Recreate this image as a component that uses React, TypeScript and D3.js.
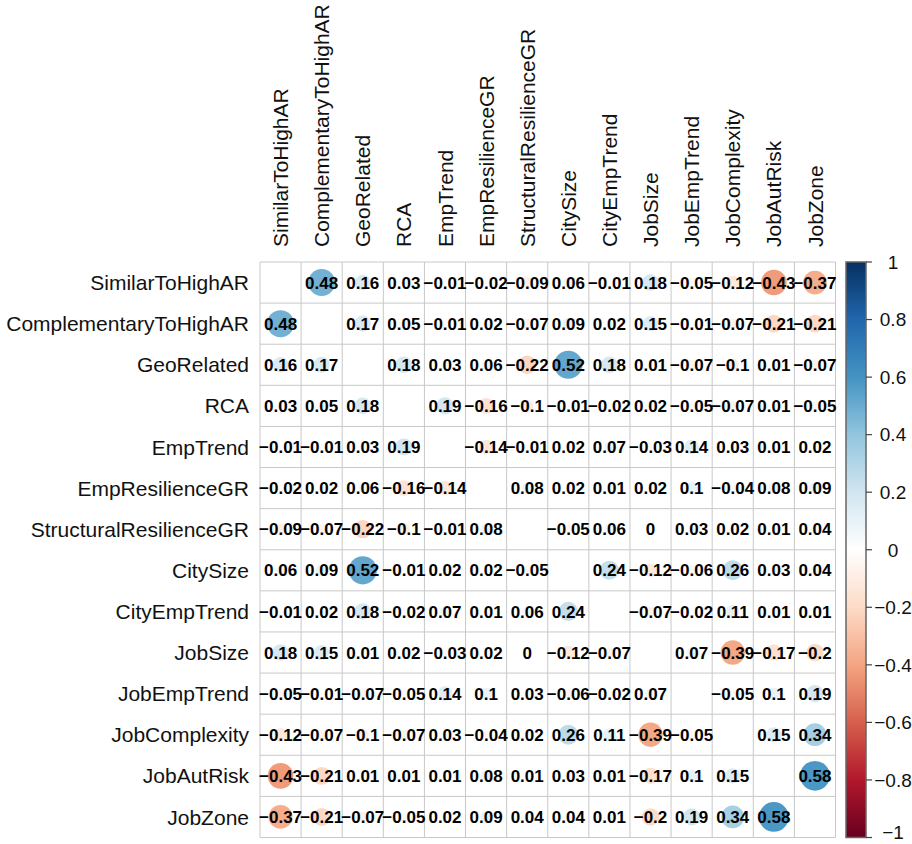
import React from "react";
import * as d3 from "d3";

const variables = [
  "SimilarToHighAR",
  "ComplementaryToHighAR",
  "GeoRelated",
  "RCA",
  "EmpTrend",
  "EmpResilienceGR",
  "StructuralResilienceGR",
  "CitySize",
  "CityEmpTrend",
  "JobSize",
  "JobEmpTrend",
  "JobComplexity",
  "JobAutRisk",
  "JobZone",
];

// lower triangle rows (row i has values for columns 0..i-1)
const rowComplementary = [0.48];
const rowGeoRelated = [0.16, 0.17];
const rowRCA = [0.03, 0.05, 0.18];
const rowEmpTrend = [-0.01, -0.01, 0.03, 0.19];
const rowEmpResilience = [-0.02, 0.02, 0.06, -0.16, -0.14];
const rowStructural = [-0.09, -0.07, -0.22, -0.1, -0.01, 0.08];
const rowCitySize = [0.06, 0.09, 0.52, -0.01, 0.02, 0.02, -0.05];
const rowCityEmpTrend = [-0.01, 0.02, 0.18, -0.02, 0.07, 0.01, 0.06, 0.24];
const rowJobSize = [0.18, 0.15, 0.01, 0.02, -0.03, 0.02, 0, -0.12, -0.07];
const rowJobEmpTrend = [-0.05, -0.01, -0.07, -0.05, 0.14, 0.1, 0.03, -0.06, -0.02, 0.07];
const rowJobComplexity = [-0.12, -0.07, -0.1, -0.07, 0.03, -0.04, 0.02, 0.26, 0.11, -0.39, -0.05];
const rowJobAutRisk = [-0.43, -0.21, 0.01, 0.01, 0.01, 0.08, 0.01, 0.03, 0.01, -0.17, 0.1, 0.15];
const rowJobZone = [-0.37, -0.21, -0.07, -0.05, 0.02, 0.09, 0.04, 0.04, 0.01, -0.2, 0.19, 0.34, 0.58];

const lowerRows = [
  [],
  rowComplementary,
  rowGeoRelated,
  rowRCA,
  rowEmpTrend,
  rowEmpResilience,
  rowStructural,
  rowCitySize,
  rowCityEmpTrend,
  rowJobSize,
  rowJobEmpTrend,
  rowJobComplexity,
  rowJobAutRisk,
  rowJobZone,
];

const paletteColors = [
  "#67001F", "#B2182B", "#D6604D", "#F4A582", "#FDDBC7", "#FFFFFF",
  "#D1E5F0", "#92C5DE", "#4393C3", "#2166AC", "#053061",
];
const legendTicks = [1, 0.8, 0.6, 0.4, 0.2, 0, -0.2, -0.4, -0.6, -0.8, -1];

function corr(i: number, j: number): number | null {
  if (i === j) return null;
  return i > j ? lowerRows[i][j] : lowerRows[j][i];
}

function fmt(v: number): string {
  const s = String(Math.round(v * 100) / 100);
  return s.replace("-", "\u2212");
}

export default function App() {
  const n = variables.length;
  const x0 = 260;
  const y0 = 262;
  const size = 575.5;
  const band = d3.scaleBand<number>().domain(d3.range(n)).range([0, size]).padding(0);
  const cell = band.bandwidth();
  const color = d3
    .scaleLinear<string>()
    .domain(d3.range(paletteColors.length).map((k) => -1 + (2 * k) / (paletteColors.length - 1)))
    .range(paletteColors)
    .interpolate(d3.interpolateRgb);

  const barX = 846;
  const barW = 20;
  const barTop = y0;
  const barBottom = y0 + size;
  const legendY = d3.scaleLinear().domain([-1, 1]).range([barBottom, barTop]);

  const font = "'Liberation Sans', Arial, sans-serif";

  const cells: React.ReactNode[] = [];
  const labels: React.ReactNode[] = [];
  for (let i = 0; i < n; i++) {
    for (let j = 0; j < n; j++) {
      const v = corr(i, j);
      if (v === null) continue;
      const cx = x0 + (band(j) as number) + cell / 2;
      const cy = y0 + (band(i) as number) + cell / 2;
      cells.push(
        <circle
          key={`c${i}-${j}`}
          cx={cx}
          cy={cy}
          r={Math.sqrt(Math.abs(v)) * cell * 0.475}
          fill={color(v)}
        />
      );
      labels.push(
        <text
          key={`t${i}-${j}`}
          x={cx}
          y={cy}
          dy="0.36em"
          textAnchor="middle"
          fontFamily={font}
          fontWeight="bold"
          fontSize={17}
          fill="#000"
        >
          {fmt(v)}
        </text>
      );
    }
  }

  return (
    <svg
      width={912}
      height={844}
      style={{ display: "block", position: "fixed", left: 0, top: 0, background: "#fff" }}
    >
      <defs>
        <linearGradient id="legendGrad" x1="0" y1="1" x2="0" y2="0">
          {paletteColors.map((c, k) => (
            <stop key={k} offset={`${(k / (paletteColors.length - 1)) * 100}%`} stopColor={c} />
          ))}
        </linearGradient>
      </defs>
      <g>
        {d3.range(n + 1).map((k) => (
          <line
            key={`v${k}`}
            x1={x0 + (k * size) / n}
            x2={x0 + (k * size) / n}
            y1={y0}
            y2={y0 + size}
            stroke="#c8c8c8"
            strokeWidth={1}
          />
        ))}
        {d3.range(n + 1).map((k) => (
          <line
            key={`h${k}`}
            y1={y0 + (k * size) / n}
            y2={y0 + (k * size) / n}
            x1={x0}
            x2={x0 + size}
            stroke="#c8c8c8"
            strokeWidth={1}
          />
        ))}
        {cells}
        {labels}
        {variables.map((v, i) => (
          <text
            key={`r${v}`}
            x={249}
            y={y0 + (band(i) as number) + cell / 2}
            dy="0.36em"
            textAnchor="end"
            fontFamily={font}
            fontSize={21}
            fill="#111"
          >
            {v}
          </text>
        ))}
        {variables.map((v, j) => {
          const cx = x0 + (band(j) as number) + cell / 2;
          return (
            <text
              key={`col${v}`}
              transform={`translate(${cx},247) rotate(-90)`}
              dy="0.36em"
              textAnchor="start"
              fontFamily={font}
              fontSize={21}
              fill="#111"
            >
              {v}
            </text>
          );
        })}
        <rect
          x={barX}
          y={barTop}
          width={barW}
          height={barBottom - barTop}
          fill="url(#legendGrad)"
          stroke="#666"
          strokeWidth={1.5}
        />
        {legendTicks.map((t) => (
          <g key={`lt${t}`}>
            <line
              x1={barX + barW}
              x2={barX + barW + 6}
              y1={legendY(t)}
              y2={legendY(t)}
              stroke="#444"
              strokeWidth={1.2}
            />
            <text
              x={893}
              y={Math.min(legendY(t), 832)}
              dy="0.36em"
              textAnchor="middle"
              fontFamily={font}
              fontSize={19}
              fill="#111"
            >
              {fmt(t)}
            </text>
          </g>
        ))}
      </g>
    </svg>
  );
}
